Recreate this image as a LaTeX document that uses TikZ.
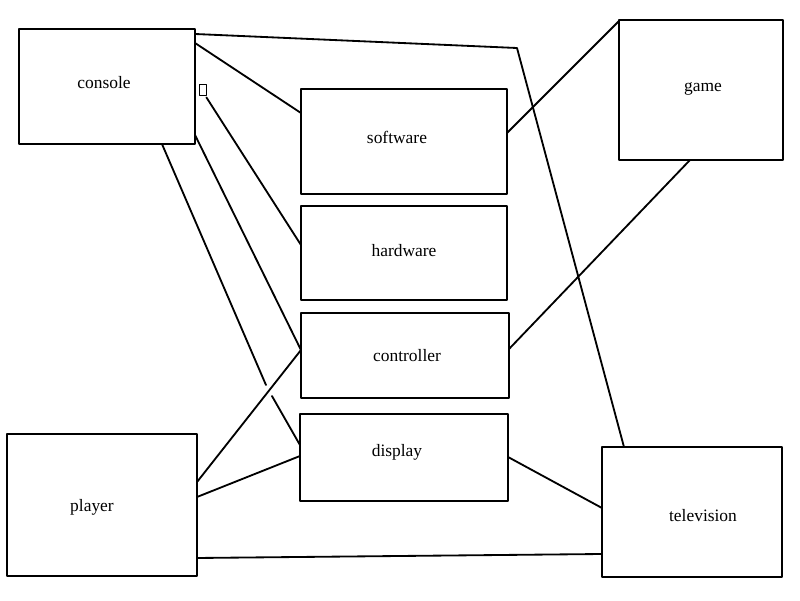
\documentclass[tikz,border=0pt]{standalone}
\usepackage{fontspec}
\setmainfont{Liberation Serif}
\usetikzlibrary{calc}
\tikzset{box/.style={draw,line width=2pt,inner sep=0pt,outer sep=0pt},
	tag/.style={font=\fontsize{12.4}{15}\selectfont},
	link/.style={line width=1.3pt}}
\begin{document}
\begin{tikzpicture}[x=0.025cm,y=-0.025cm,line join=round,line cap=round]
	\useasboundingbox (0,0) rectangle (800,600);
	\node[box,minimum width=4.4cm,minimum height=2.875cm,label={[tag,shift={(-3,-3.5)}]center:console}] (console) at (107,86.5) {};
	\node[box,minimum width=5.15cm,minimum height=2.625cm,label={[tag,shift={(-7,-4.5)}]center:software}] (software) at (404,141.5) {};
	\node[box,minimum width=5.15cm,minimum height=2.35cm,label={[tag,shift={(0,-2)}]center:hardware}] (hardware) at (404,253) {};
	\node[box,minimum width=5.2cm,minimum height=2.125cm,label={[tag,shift={(2,0.5)}]center:controller}] (controller) at (405,355.5) {};
	\node[box,minimum width=5.2cm,minimum height=2.175cm,label={[tag,shift={(-7,-5.5)}]center:display}] (display) at (404,457.5) {};
	\node[box,minimum width=4.1cm,minimum height=3.5cm,label={[tag,shift={(2,-1)}]center:game}] (game) at (701,90) {};
	\node[box,minimum width=4.75cm,minimum height=3.55cm,label={[tag,shift={(-10,2)}]center:player}] (player) at (102,505) {};
	\node[box,minimum width=4.5cm,minimum height=3.25cm,label={[tag,shift={(11,4)}]center:television}] (television) at (692,512) {};
	\node[draw,line width=0.6pt,minimum width=0.175cm,minimum height=0.275cm,inner sep=0pt] (mark) at (202.5,89.5) {};
	\coordinate (bend) at (517,48);
	% console
	\draw[link] ($(console.north east)+(0,5)$) -- (bend) -- ($(television.north west)+(22,0)$);
	\draw[link] ($(console.north east)+(0,14)$) -- ($(software.north west)+(0,24)$);
	\draw[link] ($(mark.south east)+(0,2)$) -- ($(hardware.north west)+(0,39)$);
	\draw[link] ($(console.south east)+(0,-9)$) -- ($(controller.north west)+(0,37)$);
	\draw[link] ($(console.south west)+(143,0)$) -- ($(display.north west)+(-34,-29)$);
	\draw[link] ($(display.north west)+(-28,-18)$) -- ($(display.north west)+(0,31)$);
	% game
	\draw[link] ($(software.north east)+(0,44)$) -- ($(game.north west)+(0,1)$);
	\draw[link] ($(game.south west)+(71,0)$) -- ($(controller.north east)+(0,36)$);
	% player
	\draw[link] ($(player.north east)+(0,48)$) -- ($(controller.north west)+(0,37)$);
	\draw[link] ($(player.north east)+(0,63)$) -- ($(display.north west)+(0,42)$);
	\draw[link] ($(player.north east)+(0,124)$) -- ($(television.north west)+(0,107)$);
	% television
	\draw[link] ($(display.north east)+(0,43)$) -- ($(television.north west)+(0,61)$);
\end{tikzpicture}
\end{document}
